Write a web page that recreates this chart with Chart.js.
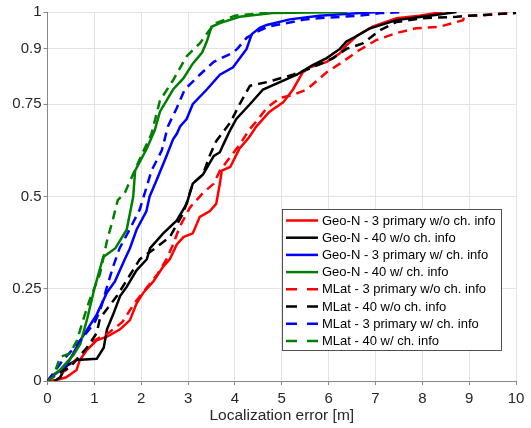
<!DOCTYPE html>
<html>
<head>
<meta charset="utf-8">
<script src="https://cdn.jsdelivr.net/npm/chart.js@4.4.0/dist/chart.umd.min.js"></script>
<style>
  html, body { margin: 0; padding: 0; background: #fff; }
  #wrap { width: 531px; height: 428px; position: relative; }
</style>
</head>
<body>
<div id="wrap"><canvas id="cdf"></canvas></div>
<script>
// Series labels (legend order)
const seriesLabels = [
    "Geo-N - 3 primary w/o ch. info",
    "Geo-N - 40 w/o ch. info",
    "Geo-N - 3 primary w/ ch. info",
    "Geo-N - 40 w/ ch. info",
    "MLat - 3 primary w/o ch. info",
    "MLat - 40 w/o ch. info",
    "MLat - 3 primary w/ ch. info",
    "MLat - 40 w/ ch. info"
];

// Localization error [m] and CDF values
const geo3WoX = [0, 0.2, 0.4, 0.62, 0.69, 0.84, 1.05, 1.27, 1.55, 1.76, 1.9, 2.05, 2.26, 2.47, 2.61, 2.76, 2.9, 3.1, 3.25, 3.46, 3.6, 3.68, 3.72, 3.9, 4.1, 4.3, 4.46, 4.74, 5.03, 5.24, 5.45, 5.6, 5.96, 6.24, 6.38, 6.6, 6.94, 7.45, 7.94, 8.43];
const geo3WoY = [0, 0.003, 0.01, 0.03, 0.057, 0.084, 0.11, 0.12, 0.14, 0.165, 0.21, 0.24, 0.27, 0.31, 0.33, 0.37, 0.39, 0.40, 0.445, 0.46, 0.48, 0.535, 0.57, 0.58, 0.63, 0.66, 0.69, 0.73, 0.755, 0.79, 0.837, 0.85, 0.865, 0.888, 0.91, 0.935, 0.96, 0.983, 0.99, 1.0];

const geo40WoX = [0.15, 0.27, 0.4, 0.62, 1.05, 1.2, 1.27, 1.4, 1.55, 1.69, 1.9, 2.12, 2.19, 2.47, 2.76, 2.97, 3.1, 3.32, 3.55, 3.68, 3.75, 3.9, 4.03, 4.32, 4.6, 4.96, 5.32, 5.66, 5.96, 6.24, 6.38, 6.6, 6.87, 7.45, 8.16, 8.73];
const geo40WoY = [0, 0.01, 0.04, 0.057, 0.06, 0.09, 0.14, 0.18, 0.23, 0.255, 0.3, 0.33, 0.36, 0.40, 0.435, 0.48, 0.535, 0.56, 0.61, 0.62, 0.64, 0.68, 0.71, 0.75, 0.79, 0.81, 0.83, 0.856, 0.875, 0.9, 0.92, 0.935, 0.955, 0.978, 0.99, 1.0];

const geo3WX = [0, 0.05, 0.4, 0.7, 1.05, 1.27, 1.44, 1.65, 1.76, 1.9, 2.11, 2.18, 2.33, 2.54, 2.68, 2.76, 2.83, 2.97, 3.1, 3.4, 3.68, 3.96, 4.25, 4.36, 4.53, 4.68, 5.17, 5.8, 6.66, 7.1];
const geo3WY = [0, 0.008, 0.04, 0.11, 0.18, 0.24, 0.27, 0.33, 0.36, 0.41, 0.46, 0.5, 0.545, 0.61, 0.655, 0.67, 0.69, 0.71, 0.75, 0.79, 0.83, 0.85, 0.90, 0.94, 0.957, 0.965, 0.98, 0.99, 0.997, 1.0];

const geo40WX = [0, 0.15, 0.27, 0.55, 0.7, 0.85, 1.0, 1.19, 1.45, 1.69, 1.83, 1.87, 2.12, 2.29, 2.4, 2.54, 2.68, 2.9, 3.1, 3.3, 3.4, 3.5, 3.68, 4.1, 4.8, 6.4];
const geo40WY = [0, 0.02, 0.03, 0.07, 0.1, 0.17, 0.25, 0.336, 0.36, 0.41, 0.5, 0.57, 0.63, 0.68, 0.73, 0.76, 0.79, 0.82, 0.86, 0.89, 0.92, 0.96, 0.97, 0.987, 0.997, 1.0];

const ml3WoX = [0, 0.1, 0.4, 0.7, 1.0, 1.3, 1.6, 1.85, 2.1, 2.35, 2.54, 2.68, 2.83, 3.04, 3.32, 3.55, 3.68, 3.9, 4.1, 4.3, 4.5, 4.68, 4.96, 5.24, 5.53, 5.81, 5.96, 6.24, 6.66, 7.02, 7.45, 7.87, 8.37, 8.87, 8.9, 9.22, 9.86, 10];
const ml3WoY = [0, 0.01, 0.03, 0.07, 0.11, 0.13, 0.16, 0.21, 0.25, 0.29, 0.33, 0.37, 0.42, 0.47, 0.51, 0.535, 0.57, 0.607, 0.64, 0.68, 0.71, 0.74, 0.767, 0.775, 0.79, 0.82, 0.837, 0.86, 0.897, 0.924, 0.943, 0.956, 0.96, 0.978, 0.99, 0.99, 0.997, 1.0];

const ml40WoX = [0, 0.1, 0.5, 0.84, 1.05, 1.12, 1.48, 1.97, 2.3, 2.61, 2.9, 3.1, 3.32, 3.46, 3.6, 3.9, 4.1, 4.32, 4.68, 5.24, 5.66, 6.1, 6.38, 6.73, 7.09, 7.45, 8.0, 8.73, 9.0, 10];
const ml40WoY = [0, 0.01, 0.04, 0.09, 0.13, 0.17, 0.23, 0.33, 0.36, 0.39, 0.455, 0.535, 0.56, 0.61, 0.65, 0.70, 0.75, 0.8, 0.81, 0.83, 0.85, 0.875, 0.9, 0.915, 0.95, 0.973, 0.983, 0.987, 0.99, 0.997];

const ml3WX = [0, 0.12, 0.33, 0.5, 0.7, 1.0, 1.12, 1.27, 1.4, 1.54, 1.75, 1.97, 2.22, 2.44, 2.57, 2.76, 2.93, 3.25, 3.55, 3.96, 4.05, 4.25, 4.46, 4.7, 5.5, 6.0, 6.66, 7.1, 7.6];
const ml3WY = [0, 0.02, 0.057, 0.08, 0.11, 0.157, 0.19, 0.255, 0.31, 0.36, 0.41, 0.465, 0.57, 0.625, 0.69, 0.74, 0.79, 0.83, 0.865, 0.89, 0.9, 0.93, 0.946, 0.96, 0.98, 0.985, 0.99, 0.997, 1.0];

const ml40WX = [0, 0.12, 0.27, 0.48, 0.63, 0.76, 0.9, 1.12, 1.27, 1.4, 1.5, 1.65, 1.79, 2.0, 2.22, 2.4, 2.68, 2.97, 3.25, 3.45, 3.6, 4.0, 4.7, 5.0];
const ml40WY = [0, 0.01, 0.065, 0.075, 0.11, 0.165, 0.22, 0.29, 0.38, 0.44, 0.49, 0.51, 0.55, 0.61, 0.67, 0.76, 0.815, 0.88, 0.915, 0.95, 0.97, 0.99, 0.998, 1.0];

// Axis ticks
const xTicks = [0, 1, 2, 3, 4, 5, 6, 7, 8, 9, 10];
const yTicks = [0, 0.25, 0.5, 0.75, 0.9, 1];

const seriesX = [geo3WoX, geo40WoX, geo3WX, geo40WX, ml3WoX, ml40WoX, ml3WX, ml40WX];
const seriesY = [geo3WoY, geo40WoY, geo3WY, geo40WY, ml3WoY, ml40WoY, ml3WY, ml40WY];
const seriesColors = ["#ff0000", "#000000", "#0000ff", "#008000", "#ff0000", "#000000", "#0000ff", "#008000"];
const seriesDashed = [false, false, false, false, true, true, true, true];

const FONT = "'Liberation Sans', Arial, sans-serif";

function toPoints(xs, ys) {
    return xs.map((x, i) => ({ x: x, y: ys[i] }));
}

const datasets = seriesLabels.map((label, i) => ({
    label: label,
    data: toPoints(seriesX[i], seriesY[i]),
    borderColor: seriesColors[i],
    backgroundColor: seriesColors[i],
    borderWidth: 2.5,
    borderDash: seriesDashed[i] ? [9, 6] : [],
    pointRadius: 0,
    tension: 0,
    fill: false,
    order: seriesLabels.length - i  // later series on top, like MATLAB
}));

// Legend drawn inside the plot area (bottom right), MATLAB style
const boxLegend = {
    id: "boxLegend",
    afterDraw(chart) {
        const ctx = chart.ctx;
        const area = chart.chartArea;
        const w = 219, h = 141;
        const x0 = area.right - 15 - w;
        const y0 = area.bottom - 31 - h;
        ctx.save();
        ctx.fillStyle = "#ffffff";
        ctx.fillRect(x0, y0, w, h);
        ctx.strokeStyle = "#262626";
        ctx.lineWidth = 0.8;
        ctx.strokeRect(x0 + 0.5, y0 + 0.5, w, h);
        ctx.font = "13px " + FONT;
        ctx.textBaseline = "middle";
        chart.data.datasets.forEach((ds, i) => {
            const y = y0 + 11.5 + i * 17.2;
            ctx.strokeStyle = ds.borderColor;
            ctx.lineWidth = 2.5;
            ctx.setLineDash(ds.borderDash.length ? [11, 10] : []);
            ctx.beginPath();
            ctx.moveTo(x0 + 4, y);
            ctx.lineTo(x0 + 36, y);
            ctx.stroke();
            ctx.setLineDash([]);
            ctx.fillStyle = "#000000";
            ctx.fillText(ds.label, x0 + 40, y + 0.5);
        });
        ctx.restore();
    }
};

new Chart(document.getElementById("cdf"), {
    type: "line",
    data: { datasets: datasets },
    options: {
        responsive: true,
        maintainAspectRatio: false,
        animation: false,
        layout: { padding: { top: 12, right: 15, left: 0, bottom: 0 } },
        plugins: {
            legend: { display: false },
            tooltip: { enabled: false }
        },
        scales: {
            x: {
                type: "linear",
                min: 0,
                max: 10,
                afterBuildTicks: axis => { axis.ticks = xTicks.map(v => ({ value: v })); },
                afterFit: axis => { axis.height = 47; },
                ticks: {
                    color: "#262626",
                    font: { family: FONT, size: 15 },
                    padding: 5,
                    maxRotation: 0,
                    callback: v => String(v)
                },
                grid: { color: "#e3e3e3", tickColor: "#888888", tickLength: 4 },
                border: { color: "#888888", width: 1 },
                title: {
                    display: true,
                    text: "Localization error [m]",
                    color: "#262626",
                    font: { family: FONT, size: 15.5 },
                    padding: { top: 0, bottom: 3 }
                }
            },
            y: {
                type: "linear",
                min: 0,
                max: 1,
                afterBuildTicks: axis => { axis.ticks = yTicks.map(v => ({ value: v })); },
                afterFit: axis => { axis.width = 47.5; },
                ticks: {
                    color: "#262626",
                    font: { family: FONT, size: 15 },
                    padding: 2,
                    callback: v => String(v)
                },
                grid: { color: "#e3e3e3", tickColor: "#888888", tickLength: 4 },
                border: { color: "#888888", width: 1 }
            }
        }
    },
    plugins: [boxLegend]
});
</script>
</body>
</html>
